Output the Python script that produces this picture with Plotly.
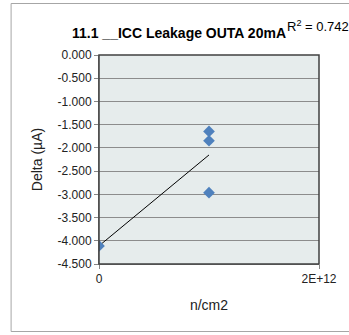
import numpy as np
import plotly.graph_objects as go

# Data
fluence = [0, 1e12, 1e12, 1e12]
delta = [-4.11, -1.645, -1.846, -2.965]
y_tick_vals = [0, -0.5, -1.0, -1.5, -2.0, -2.5, -3.0, -3.5, -4.0, -4.5]
y_tick_text = ["0.000", "-0.500", "-1.000", "-1.500", "-2.000", "-2.500", "-3.000", "-3.500", "-4.000", "-4.500"]
x_tick_vals = [0, 2e12]
x_tick_text = ["0", "2E+12"]
title_text = "11.1 __ICC Leakage OUTA 20mA"
r2_label = "R<sup>2</sup> = 0.742"

x = np.array(fluence)
y = np.array(delta)
m, b = np.polyfit(x, y, 1)
tx = np.array([x.min(), x.max()])
ty = m * tx + b

fig = go.Figure()
fig.add_trace(go.Scatter(x=tx, y=ty, mode="lines", line=dict(color="black", width=1), hoverinfo="skip"))
fig.add_trace(go.Scatter(x=fluence, y=delta, mode="markers",
                         marker=dict(symbol="diamond", size=9, color="#4F81BD")))

font_main = "Liberation Sans, Arial, sans-serif"
L, T, W, H = 99, 55, 224, 209  # plot area in page pixels


def px(xp):
    return (xp - L) / W


def py(yp):
    return (T + H - yp) / H


fig.update_layout(
    width=349, height=335,
    margin=dict(l=L, r=349 - L - W, t=T, b=335 - T - H),
    paper_bgcolor="white",
    plot_bgcolor="#E6ECEC",
    showlegend=False,
    font=dict(family=font_main, size=12, color="#222222"),
    xaxis=dict(range=[0, 2e12], tickvals=x_tick_vals, ticktext=x_tick_text,
               showgrid=False, zeroline=False, showline=True, linecolor="#868686", linewidth=1,
               ticks="outside", ticklen=4, tickcolor="#868686",
               title=dict(text="n/cm2", font=dict(size=14), standoff=14),
               tickfont=dict(size=12)),
    yaxis=dict(range=[-4.5, 0], tickvals=y_tick_vals, ticktext=y_tick_text,
               showgrid=True, gridcolor="#8C8C8C", gridwidth=1, zeroline=False,
               showline=True, linecolor="#868686", linewidth=1,
               ticks="outside", ticklen=4, tickcolor="#868686",
               title=dict(text="Delta (µA)", font=dict(size=14), standoff=11),
               tickfont=dict(size=12)),
    shapes=[
        dict(type="rect", xref="paper", yref="paper", x0=0, x1=1, y0=0, y1=1,
             line=dict(color="#404040", width=1.5), fillcolor="rgba(0,0,0,0)"),
        dict(type="rect", xref="paper", yref="paper", x0=px(9.5), x1=px(360), y0=py(331.5), y1=py(3.5),
             line=dict(color="#A6A6A6", width=1), fillcolor="rgba(0,0,0,0)", layer="above"),
    ],
    annotations=[
        dict(text="<b>" + title_text + "</b>", xref="paper", yref="paper",
             x=px(180), y=py(33), xanchor="center", yanchor="middle",
             showarrow=False, font=dict(size=14, family=font_main, color="black")),
        dict(text=r2_label, xref="paper", yref="paper",
             x=px(288), y=py(26), xanchor="left", yanchor="middle",
             showarrow=False, font=dict(size=13, family=font_main, color="black")),
    ],
)

fig.write_html("out.html", config={"displayModeBar": False},
               post_script="document.body.style.margin='0';document.body.style.overflow='hidden';")
